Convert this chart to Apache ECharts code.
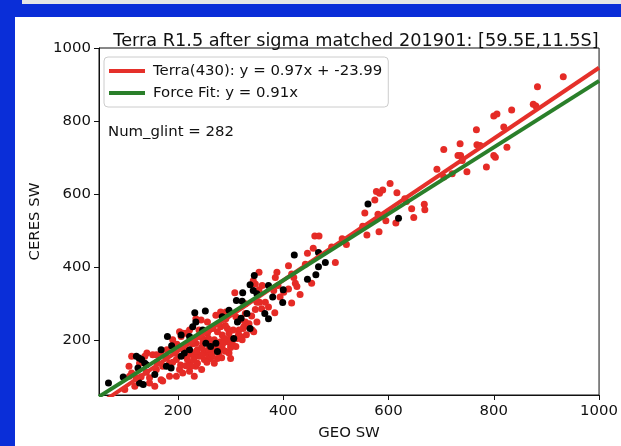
<!DOCTYPE html>
<html><head><meta charset="utf-8">
<script src="https://cdn.jsdelivr.net/npm/echarts@6/dist/echarts.min.js"></script>
<style>html,body{margin:0;padding:0;background:#fff;}#c{width:621px;height:446px;}</style>
</head><body><div id="c"></div>
<script>
const titleText = 'Terra R1.5 after sigma matched 201901: [59.5E,11.5S]';
const xName = 'GEO SW';
const yName = 'CERES SW';
const noteText = 'Num_glint = 282';
const xTicks = [200, 400, 600, 800, 1000];
const yTicks = [200, 400, 600, 800, 1000];
const axisRange = [50, 1000];
const terraFit = [0.97, -23.99];
const forceFit = [0.91, 0];
const terraName = 'Terra(430): y = 0.97x + -23.99';
const forceName = 'Force Fit: y = 0.91x';

const redPoints = [
[932,921],[883,894],[875,846],[880,841],[834,830],[800,814],[806,819],[819,784],[767,776],[768,735],[774,733],[736,738],[705,722],[825,728],[732,706],[737,706],[800,706],[803,701],[740,692],[786,674],[749,661],[692,668],[721,656],[705,647],[603,629],[589,611],[577,607],[583,602],[616,604],[574,584],[631,587],[634,580],[668,572],[669,557],[644,560],[648,536],[555,548],[580,545],[595,527],[614,521],[551,512],[582,497],[559,488],[512,478],[514,471],[492,455],[520,462],[499,413],
[460,485],[468,485],[457,452],[446,438],[410,404],[442,408],[454,356],[420,372],[423,356],[426,347],[432,325],[416,302],[394,318],[410,340],[388,386],[385,372],[416,381],[401,331],[390,350],[382,336],[372,291],[384,275],[354,386],[347,354],[354,338],[355,304],[347,284],[359,286],[308,330],[328,300],[328,273],[340,266],[341,228],[324,232],[319,255],[310,264],[300,273],[291,277],[272,268],[234,259],[256,250],[259,228],[281,237],[284,214],[297,219],[291,196],[303,192],[275,192],[269,174],[253,165],[247,192],[240,210],[209,219],[206,210],[198,189],[179,174],[168,165],[152,160],[141,165],[112,156],[137,156],[127,137],[107,129],[112,110],[121,97],[146,83],[159,120],[171,129],[184,137],[197,147],[203,120],[215,156],[222,137],[228,165],[240,156],[250,147],[259,156],[269,137],[278,165],[284,178],[297,165],[310,183],[313,205],[322,201],[184,101],[171,88],[197,101],[209,110],[222,115],[234,129],[281,277],[222,228],[203,223],[190,201],
[343,363],[360,350],[350,304],[366,304],[350,250],[244,255],[291,259],[328,250],[316,228],[344,223],[325,237],[305,228],[294,232],[298,203],[319,210],[275,223],[266,232],[240,228],[256,219],[247,205],[269,201],[281,196],[234,192],[237,174],[250,169],[259,169],[272,178],[231,156],[108,101],[159,160],[206,183],[215,219],[124,92],[118,74],[146,97],[168,92],[225,129],[231,101],[237,137],[218,147],[156,74],[99,65],
[190,140],[205,132],[245,180],[262,190],[288,205],[300,188],[315,215],[228,190],[212,175],[178,152],[160,140],[140,112],[130,100],[262,150],[283,152],[300,150],[330,215],[335,245],[290,240],[258,205],[220,160],[195,165],
[215,130],[230,145],[245,160],[255,140],[265,160],[275,150],[290,170],[300,180],[245,120],[258,175],[235,170],[285,190]
];
const blackPoints = [
[561,573],[619,534],[467,440],[480,413],[421,433],[462,379],[446,367],[399,303],[380,318],[372,350],[372,259],[365,273],[345,377],[337,352],[343,336],[323,330],[311,309],[322,307],[337,232],[306,205],[297,282],[284,264],[252,280],[232,275],[228,237],[234,250],[253,192],[222,210],[180,210],[188,185],[168,174],[121,156],[126,151],[137,137],[124,124],[96,99],[68,83],[127,83],[134,79],[178,129],[187,124],[222,174],[206,156],[247,228],[272,192],[131,147],[140,133],[206,214],[156,106],[212,165],[350,327],[331,273],[313,250],[320,260],[262,183],[275,169],[467,401],[400,338]
];

function fitLine(coef) {
  return axisRange.map(x => [x, coef[0] * x + coef[1]]);
}
const plain = v => String(v);

const FONT = 'DejaVu Sans';
const FS = 14.9;
const chart = echarts.init(document.getElementById('c'), null, {renderer: 'canvas'});
chart.setOption({
  backgroundColor: '#ffffff',
  animation: false,
  title: {
    text: titleText, left: 351, top: 27, textAlign: 'center',
    textStyle: {fontFamily: FONT, fontSize: 17.7, fontWeight: 'normal', color: '#111'}
  },
  grid: {left: 99, right: 17, top: 48, bottom: 47, show: true, borderColor: '#111', borderWidth: 1, backgroundColor: 'transparent'},
  legend: {
    data: [terraName, forceName],
    orient: 'vertical', left: 104, top: 57,
    icon: 'rect', itemWidth: 36, itemHeight: 4, itemGap: 4,
    padding: [5, 6, 5, 5],
    backgroundColor: '#fff', borderColor: '#ccc', borderWidth: 1, borderRadius: 4,
    textStyle: {fontFamily: FONT, fontSize: FS, color: '#111', lineHeight: 18, padding: [0, 0, 0, 3]}
  },
  graphic: [
    {type: 'rect', left: 0, top: 0, shape: {width: 621, height: 4}, style: {fill: '#e6e6e6'}, z: 100},
    {type: 'rect', left: 0, top: 0, shape: {width: 22, height: 4}, style: {fill: '#0a2ed8'}, z: 101},
    {type: 'rect', left: 0, top: 4, shape: {width: 621, height: 13}, style: {fill: '#0a2ed8'}, z: 101},
    {type: 'rect', left: 0, top: 0, shape: {width: 15, height: 446}, style: {fill: '#0a2ed8'}, z: 101},
    {type: 'text', left: 108, top: 125, style: {text: noteText, font: FS + 'px "DejaVu Sans"', fill: '#111'}, z: 50}
  ],
  xAxis: {
    type: 'value', min: axisRange[0], max: axisRange[1],
    name: xName, nameLocation: 'middle', nameGap: 31,
    nameTextStyle: {fontFamily: FONT, fontSize: FS, color: '#111'},
    axisLine: {show: true, lineStyle: {color: '#111', width: 1}},
    axisTick: {show: true, length: 5, customValues: xTicks, lineStyle: {color: '#111'}},
    axisLabel: {customValues: xTicks, formatter: plain, margin: 9, fontFamily: FONT, fontSize: FS, color: '#111'},
    splitLine: {show: false}
  },
  yAxis: {
    type: 'value', min: axisRange[0], max: axisRange[1],
    name: yName, nameLocation: 'middle', nameGap: 52,
    nameTextStyle: {fontFamily: FONT, fontSize: FS, color: '#111'},
    axisLine: {show: true, lineStyle: {color: '#111', width: 1}},
    axisTick: {show: true, length: 5, customValues: yTicks, lineStyle: {color: '#111'}},
    axisLabel: {customValues: yTicks, formatter: plain, margin: 8, fontFamily: FONT, fontSize: FS, color: '#111'},
    splitLine: {show: false}
  },
  series: [
    {name: 'red', type: 'scatter', data: redPoints, symbolSize: 7, itemStyle: {color: '#e52b26', opacity: 1}, z: 2},
    {name: 'glint', type: 'scatter', data: blackPoints, symbolSize: 7, itemStyle: {color: '#000', opacity: 1}, z: 3},
    {name: terraName, type: 'line', data: fitLine(terraFit), showSymbol: false, symbol: 'none', color: '#e5302a',
     lineStyle: {color: '#e5302a', width: 4}, z: 4, clip: true},
    {name: forceName, type: 'line', data: fitLine(forceFit), showSymbol: false, symbol: 'none', color: '#2a7f2a',
     lineStyle: {color: '#2a7f2a', width: 4}, z: 5, clip: true}
  ]
});
</script></body></html>
